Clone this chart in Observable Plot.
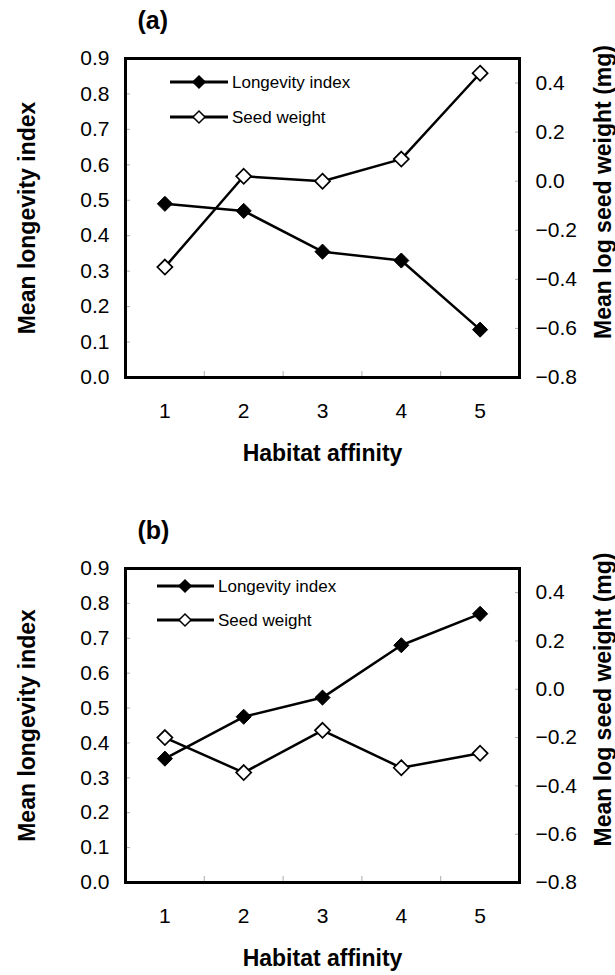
<!DOCTYPE html>
<html><head><meta charset="utf-8">
<script src="https://cdn.jsdelivr.net/npm/d3@7"></script>
<script src="https://cdn.jsdelivr.net/npm/@observablehq/plot@0.6"></script>
<style>
body{margin:0;background:#fff;}
.panel{position:relative;width:615px;}
.panel > svg{display:block;}
svg.legend{position:absolute;left:0;top:0;pointer-events:none;overflow:visible}
</style></head><body>
<div id="a" class="panel"></div>
<div id="b" class="panel"></div>
<script>
// ---- data ----
const habitat = [1, 2, 3, 4, 5];
const longevityA = [0.49, 0.47, 0.355, 0.33, 0.135];
const seedA = [-0.35, 0.02, 0.0, 0.09, 0.44];
const longevityB = [0.355, 0.475, 0.53, 0.68, 0.77];
const seedB = [-0.2, -0.345, -0.17, -0.325, -0.265];
const leftTicks = [0, 0.1, 0.2, 0.3, 0.4, 0.5, 0.6, 0.7, 0.8, 0.9];
const rightTicks = [-0.8, -0.6, -0.4, -0.2, 0, 0.2, 0.4];
const boundaryTicks = [1.5, 2.5, 3.5, 4.5];
const leftDomain = [0, 0.9];
const rightDomain = [-0.8, 0.5];
const seriesNames = ["Longevity index", "Seed weight"];
const panelLabels = ["(a)", "(b)"];
const xTitle = "Habitat affinity";
const yLeftTitle = "Mean longevity index";
const yRightTitle = "Mean log seed weight (mg)";

const FONT = "'Liberation Sans', Arial, Helvetica, sans-serif";

function fmt(v) { return d3.format(".1f")(Math.round(v * 10) / 10 + 0); }

function panel({el, label, longevity, seed, height, marginTop, marginBottom, legend}) {
  const toLeft = d3.scaleLinear(rightDomain, leftDomain);
  const rows = habitat.map((h, i) => ({h, lon: longevity[i], seed: seed[i]}));
  const chart = Plot.plot({
    width: 615, height,
    marginLeft: 125, marginRight: 96, marginTop, marginBottom,
    x: {domain: [0.5, 5.5]},
    y: {domain: leftDomain},
    style: {fontFamily: FONT, fontSize: "21px", background: "white", color: "black"},
    marks: [
      Plot.axisX({ticks: habitat, tickSize: 0, tickPadding: 26, tickFormat: d => String(d), label: null, fontSize: 21}),
      Plot.axisX({ticks: boundaryTicks, tickSize: 6, dy: -6, tickFormat: () => "", stroke: "#aaa", label: null}),
      Plot.axisY({ticks: leftTicks, tickSize: 0, tickPadding: 16, tickFormat: fmt, label: null, fontSize: 21}),
      Plot.axisY({ticks: leftTicks, tickSize: 5, dx: 5, tickFormat: () => "", stroke: "#aaa", label: null}),
      Plot.axisY({anchor: "right", ticks: rightTicks.map(toLeft), tickSize: 0, tickPadding: 16,
                  tickFormat: v => fmt(toLeft.invert(v)), label: null, fontSize: 21}),
      Plot.axisY({anchor: "right", ticks: rightTicks.map(toLeft), tickSize: 5, dx: -5, tickFormat: () => "", stroke: "#aaa", label: null}),
      Plot.line(rows, {x: "h", y: "lon", stroke: "black", strokeWidth: 2.5}),
      Plot.line(rows, {x: "h", y: d => toLeft(d.seed), stroke: "black", strokeWidth: 2.5}),
      Plot.dot(rows, {x: "h", y: "lon", symbol: "diamond2", r: 6.8, fill: "black", stroke: "black", strokeWidth: 1}),
      Plot.dot(rows, {x: "h", y: d => toLeft(d.seed), symbol: "diamond2", r: 6.8, fill: "white", stroke: "black", strokeWidth: 1.7}),
      Plot.frame({stroke: "black", strokeWidth: 3}),
      Plot.text([label], {frameAnchor: "top-left", text: d => d, dx: 12, dy: -38, textAnchor: "start",
                          lineAnchor: "middle", fontWeight: "bold", fontSize: 25}),
      Plot.text([yLeftTitle], {frameAnchor: "left", text: d => d, rotate: -90, dx: -91, lineAnchor: "bottom",
                               textAnchor: "middle", fontWeight: "bold", fontSize: 23}),
      Plot.text([yRightTitle], {frameAnchor: "right", text: d => d, rotate: -90, dx: 91, dy: -26, lineAnchor: "bottom",
                                textAnchor: "middle", fontWeight: "bold", fontSize: 23}),
      Plot.text([xTitle], {frameAnchor: "bottom", text: d => d, dy: 76, lineAnchor: "middle",
                           textAnchor: "middle", fontWeight: "bold", fontSize: 23})
    ]
  });
  el.appendChild(chart);

  // legend overlay
  const svg = d3.select(el).append("svg").attr("class", "legend")
    .attr("width", 615).attr("height", height);
  const fills = ["black", "white"];
  seriesNames.forEach((name, i) => {
    const y = legend.y0 + i * legend.dy;
    const g = svg.append("g").attr("transform", `translate(0,${y})`);
    g.append("line").attr("x1", legend.x0).attr("x2", legend.x1).attr("y1", 0).attr("y2", 0)
      .attr("stroke", "black").attr("stroke-width", 3);
    const m = legend.xm, s = 6;
    g.append("path").attr("d", `M${m},${-s}L${m + s},0L${m},${s}L${m - s},0Z`)
      .attr("fill", fills[i]).attr("stroke", "black").attr("stroke-width", 1.5);
    g.append("text").attr("x", legend.xt).attr("y", 0).attr("dy", "0.35em")
      .attr("font-family", FONT).attr("font-size", 17).text(name);
  });
}

panel({el: document.getElementById("a"), label: panelLabels[0], longevity: longevityA, seed: seedA,
       height: 490, marginTop: 58, marginBottom: 113,
       legend: {x0: 170, x1: 228, xm: 199, xt: 232, y0: 82, dy: 35}});
panel({el: document.getElementById("b"), label: panelLabels[1], longevity: longevityB, seed: seedB,
       height: 485, marginTop: 78, marginBottom: 93,
       legend: {x0: 157, x1: 214, xm: 185, xt: 218, y0: 96, dy: 34}});
</script>
</body></html>
